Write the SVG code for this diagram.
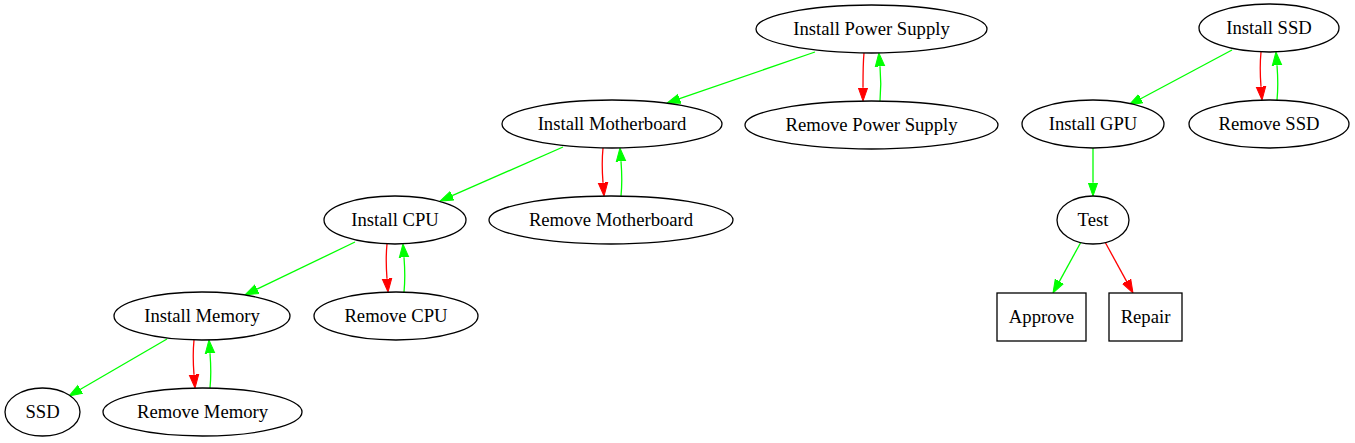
<svg xmlns="http://www.w3.org/2000/svg" width="1355" height="443" viewBox="0 0 1355 443">
<style>
.n ellipse, .n rect { fill: #ffffff; stroke: #000000; stroke-width: 1.3; }
.n text { font-family: 'Times New Roman', 'Liberation Serif', Tinos, 'DejaVu Serif', serif; font-size: 18.67px; text-anchor: middle; fill: #000000; }
.g { fill: none; stroke: #00ff00; stroke-width: 1.3; marker-end: url(#ag); }
.r { fill: none; stroke: #ff0000; stroke-width: 1.3; marker-end: url(#ar); }
</style>
<defs>
<marker id="ag" markerUnits="userSpaceOnUse" markerWidth="16" markerHeight="12" refX="0" refY="0" viewBox="0 -6 16 12" orient="auto">
<path d="M0,-4.7 L13.3,0 L0,4.7 z" fill="#00ff00" stroke="#00ff00" stroke-width="1"/>
</marker>
<marker id="ar" markerUnits="userSpaceOnUse" markerWidth="16" markerHeight="12" refX="0" refY="0" viewBox="0 -6 16 12" orient="auto">
<path d="M0,-4.7 L13.3,0 L0,4.7 z" fill="#ff0000" stroke="#ff0000" stroke-width="1"/>
</marker>
</defs>
<rect width="1355" height="443" fill="#ffffff"/>
<g id="edges">
<path class="g" d="M815,52 L679.6,98.7"/>
<path class="r" d="M864,53 C863,63 863,75 863,87.7"/>
<path class="g" d="M880,101 C881,90 881,78 880,66.3"/>
<path class="g" d="M563,147 L452.2,195.7"/>
<path class="r" d="M603,148 C602,158 602,170 603,182.7"/>
<path class="g" d="M621,196 C622,186 622,174 621,161.3"/>
<path class="g" d="M355,242 L257,289.2"/>
<path class="r" d="M387,244 C386,254 386,266 387,278.7"/>
<path class="g" d="M404,292 C405,282 405,270 404,257.3"/>
<path class="g" d="M167,339 L80.5,389.3"/>
<path class="r" d="M194,340 C193,350 193,362 194,374.7"/>
<path class="g" d="M210,388 C211,378 211,366 210,353.3"/>
<path class="g" d="M1232,50 L1140.7,98.7"/>
<path class="r" d="M1261,52 C1260,62 1260,74 1261,86.7"/>
<path class="g" d="M1277,100 C1278,90 1278,78 1277,65.3"/>
<path class="g" d="M1093,148 L1093,182.7"/>
<path class="g" d="M1081,242 L1059.4,281.35"/>
<path class="r" d="M1105,242 L1126.6,281.35"/>
</g>
<g id="install_power_supply" class="n"><ellipse cx="871.5" cy="29" rx="115.5" ry="24"/><text x="871.5" y="35">Install Power Supply</text></g>
<g id="remove_power_supply" class="n"><ellipse cx="871.5" cy="125" rx="126.5" ry="24"/><text x="871.5" y="131">Remove Power Supply</text></g>
<g id="install_motherboard" class="n"><ellipse cx="612" cy="124" rx="110" ry="24"/><text x="612" y="130">Install Motherboard</text></g>
<g id="remove_motherboard" class="n"><ellipse cx="611" cy="220" rx="122" ry="24"/><text x="611" y="226">Remove Motherboard</text></g>
<g id="install_cpu" class="n"><ellipse cx="395" cy="220" rx="71" ry="24"/><text x="395" y="226">Install CPU</text></g>
<g id="remove_cpu" class="n"><ellipse cx="396" cy="316" rx="82" ry="24"/><text x="396" y="322">Remove CPU</text></g>
<g id="install_memory" class="n"><ellipse cx="202" cy="316" rx="88" ry="24"/><text x="202" y="322">Install Memory</text></g>
<g id="remove_memory" class="n"><ellipse cx="202.5" cy="412" rx="99.5" ry="24"/><text x="202.5" y="418">Remove Memory</text></g>
<g id="ssd" class="n"><ellipse cx="42.5" cy="412" rx="37.5" ry="24"/><text x="42.5" y="418">SSD</text></g>
<g id="install_ssd" class="n"><ellipse cx="1269" cy="28" rx="70" ry="24"/><text x="1269" y="34">Install SSD</text></g>
<g id="remove_ssd" class="n"><ellipse cx="1269" cy="124" rx="80" ry="24"/><text x="1269" y="130">Remove SSD</text></g>
<g id="install_gpu" class="n"><ellipse cx="1093" cy="124" rx="71" ry="24"/><text x="1093" y="130">Install GPU</text></g>
<g id="test" class="n"><ellipse cx="1093" cy="220" rx="36" ry="24"/><text x="1093" y="226">Test</text></g>
<g id="approve" class="n"><rect x="997" y="293" width="89" height="48"/><text x="1041.5" y="323">Approve</text></g>
<g id="repair" class="n"><rect x="1109" y="293" width="73" height="48"/><text x="1145.5" y="323">Repair</text></g>
</svg>
